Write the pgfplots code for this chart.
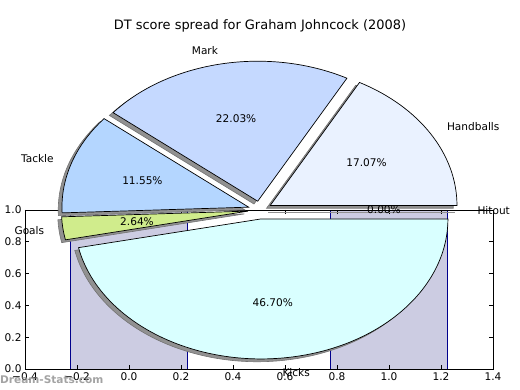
\documentclass[border=0pt]{standalone}
\usepackage{pgfplots}
\pgfplotsset{compat=1.18}
\usepackage{fontspec}
\setmainfont{DejaVu Sans}
\definecolor{barfill}{RGB}{204,204,226}
\definecolor{baredge}{RGB}{0,0,140}
\definecolor{cHand}{RGB}{234,242,255}
\definecolor{cMark}{RGB}{197,217,255}
\definecolor{cTack}{RGB}{180,214,255}
\definecolor{cGoal}{RGB}{208,236,140}
\definecolor{cKick}{RGB}{217,255,255}
\definecolor{shadow}{RGB}{145,145,145}
% wedge: #1 mid angle, #2 start angle, #3 end angle (explode 0.064 of the radius)
\newcommand\slicepath[3]{(axis cs:0,0) ++(#1:11.95bp and 8.96bp) -- ++(#2:186.7bp and 140bp) arc[start angle=#2,end angle=#3,x radius=186.7bp,y radius=140bp] -- cycle}
\newcommand\piefont{\fontsize{10.6}{12}\selectfont}
\begin{document}
\begin{tikzpicture}
\useasboundingbox (0,0) rectangle (520bp,390bp);
% ---------- bar axis ----------
\begin{axis}[
  at={(25bp,21bp)}, anchor=south west,
  scale only axis, width=468bp, height=159bp,
  xmin=-0.4, xmax=1.4, ymin=0, ymax=1,
  xtick={-0.4,-0.2,0,0.2,0.4,0.6,0.8,1.0,1.2,1.4},
  xticklabels={−0.4,−0.2,0.0,0.2,0.4,0.6,0.8,1.0,1.2,1.4},
  ytick={0,0.2,0.4,0.6,0.8,1.0},
  yticklabels={0.0,0.2,0.4,0.6,0.8,1.0},
  tick align=inside, xtick pos=both, ytick pos=both,
  major tick length=4bp,
  tick style={black, line width=0.6bp},
  axis line style={line width=0.9bp},
  tick label style={font=\piefont},
  axis on top,
]
\addplot[ybar, bar width=0.45, bar shift=0pt, fill=barfill, draw=baredge, line width=0.9bp]
  coordinates {(0,1) (1,1)};
\end{axis}
% ---------- pie axis ----------
\begin{axis}[
  at={(0bp,0bp)}, anchor=south west,
  scale only axis, x=186.7bp, y=140bp,
  xmin=-1.39261, xmax=1.39261, ymin=-1.285714, ymax=1.5,
  hide axis, clip=false,
]
% values (percent): Hitout 0.00, Handballs 17.07, Mark 22.03, Tackle 11.55, Goals 2.64, Kicks 46.70
% angles = cumulative percent * 3.6
% shadows
\begin{scope}[xshift=-3.73bp, yshift=-2.8bp]
\fill[shadow, draw=black!55, line width=0.6bp] \slicepath{30.726}{0}{61.452};
\fill[shadow, draw=black!55, line width=0.6bp] \slicepath{101.106}{61.452}{140.760};
\fill[shadow, draw=black!55, line width=0.6bp] \slicepath{161.550}{140.760}{182.340};
\fill[shadow, draw=black!55, line width=0.6bp] \slicepath{187.092}{182.340}{191.844};
\fill[shadow, draw=black!55, line width=0.6bp] \slicepath{275.904}{191.844}{359.96};
\draw[shadow, line width=1bp] (axis cs:0.064,0) -- (axis cs:1.064,0);
\end{scope}
% wedges
\filldraw[fill=cHand, draw=black, line width=0.7bp] \slicepath{30.726}{0}{61.452};
\filldraw[fill=cMark, draw=black, line width=0.7bp] \slicepath{101.106}{61.452}{140.760};
\filldraw[fill=cTack, draw=black, line width=0.7bp] \slicepath{161.550}{140.760}{182.340};
\filldraw[fill=cGoal, draw=black, line width=0.7bp] \slicepath{187.092}{182.340}{191.844};
\filldraw[fill=cKick, draw=black, line width=0.7bp] \slicepath{275.904}{191.844}{359.96};
\draw[black, line width=0.7bp] (axis cs:0.064,0) -- (axis cs:1.064,0);
% labels
\node[anchor=west, font=\piefont, inner sep=0pt] at (axis cs:1.164,-0.005) {Hitout};
\node[anchor=west, font=\piefont, inner sep=0pt] at (axis cs:1.0007,0.5948) {Handballs};
\node[anchor=east, font=\piefont, inner sep=0pt] at (axis cs:-0.2242,1.1422) {Mark};
\node[anchor=east, font=\piefont, inner sep=0pt] at (axis cs:-1.1042,0.3684) {Tackle};
\node[anchor=east, font=\piefont, inner sep=0pt] at (axis cs:-1.1551,-0.1437) {Goals};
\node[anchor=west, font=\piefont, inner sep=0pt] at (axis cs:0.1197,-1.1578) {Kicks};
% percentages
\node[font=\piefont, inner sep=0pt] at (axis cs:0.664,0) {0.00\%};
\node[font=\piefont, inner sep=0pt] at (axis cs:0.5708,0.3393) {17.07\%};
\node[font=\piefont, inner sep=0pt] at (axis cs:-0.1279,0.6516) {22.03\%};
\node[font=\piefont, inner sep=0pt] at (axis cs:-0.6299,0.2102) {11.55\%};
\node[font=\piefont, inner sep=0pt] at (axis cs:-0.6589,-0.0820) {2.64\%};
\node[font=\piefont, inner sep=0pt] at (axis cs:0.0683,-0.6605) {46.70\%};
\end{axis}
% title and watermark
\node[font=\fontsize{13}{15}\selectfont] at (260bp,364bp) {DT score spread for Graham Johncock (2008)};
\node[anchor=west, inner sep=0pt, font=\bfseries\fontsize{10.6}{12}\selectfont, text=black!45, opacity=0.8] at (0bp,10bp) {Dream-Stats.com};
\end{tikzpicture}
\end{document}
